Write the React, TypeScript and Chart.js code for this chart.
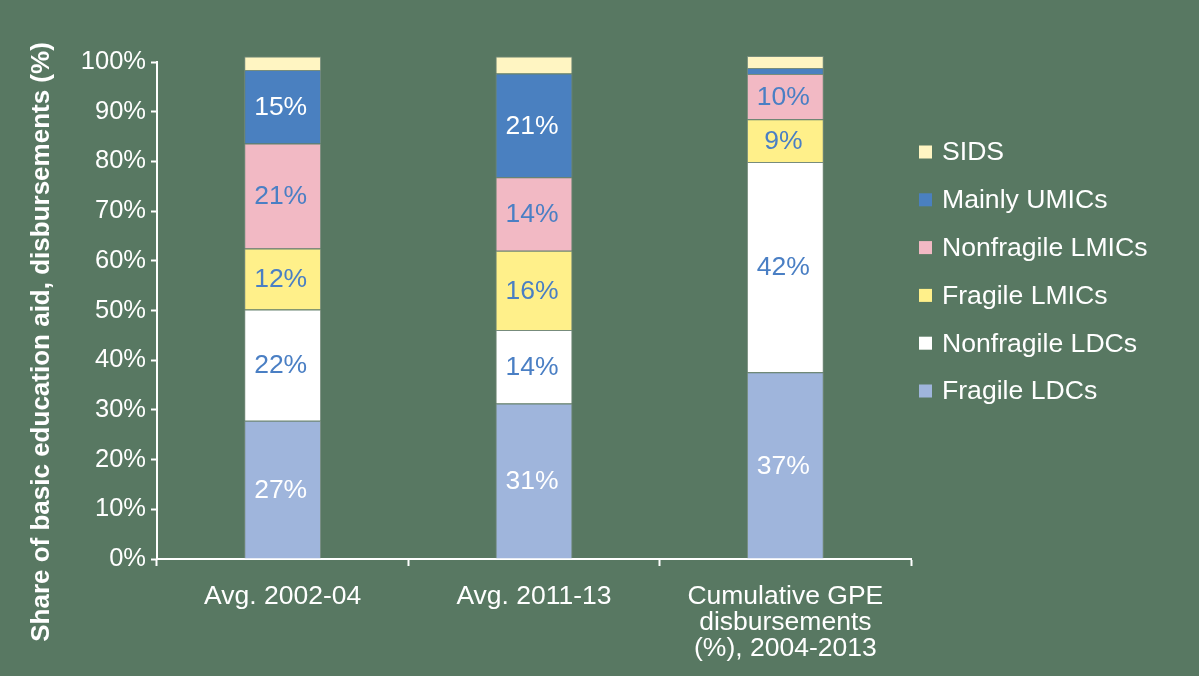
import React, { useEffect, useRef } from "react";
import { Chart, registerables } from "chart.js";

Chart.register(...registerables);

const categories = [
  "Avg. 2002-04",
  "Avg. 2011-13",
  ["Cumulative GPE", "disbursements", "(%), 2004-2013"],
];

const seriesNames = [
  "Fragile LDCs",
  "Nonfragile LDCs",
  "Fragile LMICs",
  "Nonfragile LMICs",
  "Mainly UMICs",
  "SIDS",
];

const fragileLDCs = [27.8, 31.3, 37.6];
const nonfragileLDCs = [22.4, 14.8, 42.3];
const fragileLMICs = [12.3, 15.9, 8.6];
const nonfragileLMICs = [21.1, 14.8, 9.1];
const mainlyUMICs = [14.8, 20.9, 1.2];
const sids = [2.7, 3.4, 2.4];

const fragileLDCsLabels = ["27%", "31%", "37%"];
const nonfragileLDCsLabels = ["22%", "14%", "42%"];
const fragileLMICsLabels = ["12%", "16%", "9%"];
const nonfragileLMICsLabels = ["21%", "14%", "10%"];
const mainlyUMICsLabels = ["15%", "21%", ""];
const sidsLabels = ["", "", ""];

const seriesColors = ["#9fb5dc", "#ffffff", "#fff08a", "#f2b9c4", "#4a80c0", "#fff5c2"];
const labelColors = ["#ffffff", "#4a7fc4", "#4a7fc4", "#4a7fc4", "#ffffff", "#4a7fc4"];

const yTicks = [0, 10, 20, 30, 40, 50, 60, 70, 80, 90, 100];

const BG = "#587862";
const FONT = "'Liberation Sans', Arial, sans-serif";

const segmentLabelPlugin = {
  id: "segmentLabels",
  afterDatasetsDraw(chart: any) {
    const ctx = chart.ctx;
    const allLabels = [
      fragileLDCsLabels,
      nonfragileLDCsLabels,
      fragileLMICsLabels,
      nonfragileLMICsLabels,
      mainlyUMICsLabels,
      sidsLabels,
    ];
    ctx.save();
    ctx.font = `26.5px ${FONT}`;
    ctx.textAlign = "center";
    ctx.textBaseline = "middle";
    chart.data.datasets.forEach((ds: any, i: number) => {
      const meta = chart.getDatasetMeta(i);
      meta.data.forEach((el: any, j: number) => {
        const txt = allLabels[i][j];
        if (!txt) return;
        ctx.fillStyle = labelColors[i];
        ctx.fillText(txt, el.x - 2, (el.y + el.base) / 2 + 1);
      });
    });
    ctx.restore();
  },
};

const titleLegendPlugin = {
  id: "titleLegend",
  afterDraw(chart: any) {
    const ctx = chart.ctx;
    ctx.save();
    // y-axis title
    ctx.translate(42, 342);
    ctx.rotate(-Math.PI / 2);
    ctx.font = `bold 26px ${FONT}`;
    ctx.fillStyle = "#ffffff";
    ctx.textAlign = "center";
    ctx.textBaseline = "middle";
    ctx.fillText("Share of basic education aid, disbursements (%)", 0, 0);
    ctx.restore();

    // legend (reverse order)
    ctx.save();
    ctx.font = `26.6px ${FONT}`;
    ctx.textAlign = "left";
    ctx.textBaseline = "middle";
    const n = chart.data.datasets.length;
    for (let k = 0; k < n; k++) {
      const ds = chart.data.datasets[n - 1 - k];
      const cy = 152 + k * 47.8;
      ctx.fillStyle = ds.backgroundColor;
      ctx.fillRect(919, cy - 6.5, 13, 13);
      ctx.fillStyle = "#ffffff";
      ctx.fillText(ds.label, 942, cy + 1);
    }
    ctx.restore();
  },
};

export default function App() {
  const ref = useRef<HTMLCanvasElement | null>(null);

  useEffect(() => {
    if (!ref.current) return;
    const values = [fragileLDCs, nonfragileLDCs, fragileLMICs, nonfragileLMICs, mainlyUMICs, sids];
    const chart = new Chart(ref.current, {
      type: "bar",
      data: {
        labels: categories as any,
        datasets: seriesNames.map((name, i) => ({
          label: name,
          data: values[i],
          backgroundColor: seriesColors[i],
          borderColor: "rgba(150,160,150,0.5)",
          borderWidth: 1,
          barPercentage: 0.306,
          categoryPercentage: 1,
          clip: false as any,
        })),
      },
      options: {
        responsive: false,
        animation: false,
        layout: { padding: { left: 0, right: 288, top: 62, bottom: 0 } },
        plugins: {
          legend: { display: false },
          tooltip: { enabled: false },
        },
        scales: {
          x: {
            stacked: true,
            grid: {
              drawOnChartArea: false,
              drawTicks: true,
              tickLength: 7,
              tickWidth: 2,
              color: "#ffffff",
            },
            border: { color: "#ffffff", width: 2 },
            ticks: {
              color: "#ffffff",
              font: { family: FONT, size: 26.5, lineHeight: 0.98 },
              padding: 18,
              maxRotation: 0,
              autoSkip: false,
            },
            afterFit(scale: any) {
              scale.height = 117;
            },
          },
          y: {
            stacked: true,
            min: 0,
            max: 100,
            afterBuildTicks(scale: any) {
              scale.ticks = yTicks.map((v) => ({ value: v }));
            },
            grid: {
              drawOnChartArea: false,
              drawTicks: true,
              tickLength: 6,
              tickWidth: 2,
              color: "#ffffff",
            },
            border: { color: "#ffffff", width: 2 },
            ticks: {
              color: "#ffffff",
              font: { family: FONT, size: 25.5 },
              padding: 5,
              callback: (v: any) => `${v}%`,
            },
            afterFit(scale: any) {
              scale.width = 157;
            },
          },
        },
      },
      plugins: [segmentLabelPlugin, titleLegendPlugin],
    });
    return () => chart.destroy();
  }, []);

  return (
    <div style={{ position: "absolute", left: 0, top: 0, width: 1199, height: 676, background: BG }}>
      <canvas ref={ref} width={1199} height={676} style={{ display: "block", background: BG }} />
    </div>
  );
}
